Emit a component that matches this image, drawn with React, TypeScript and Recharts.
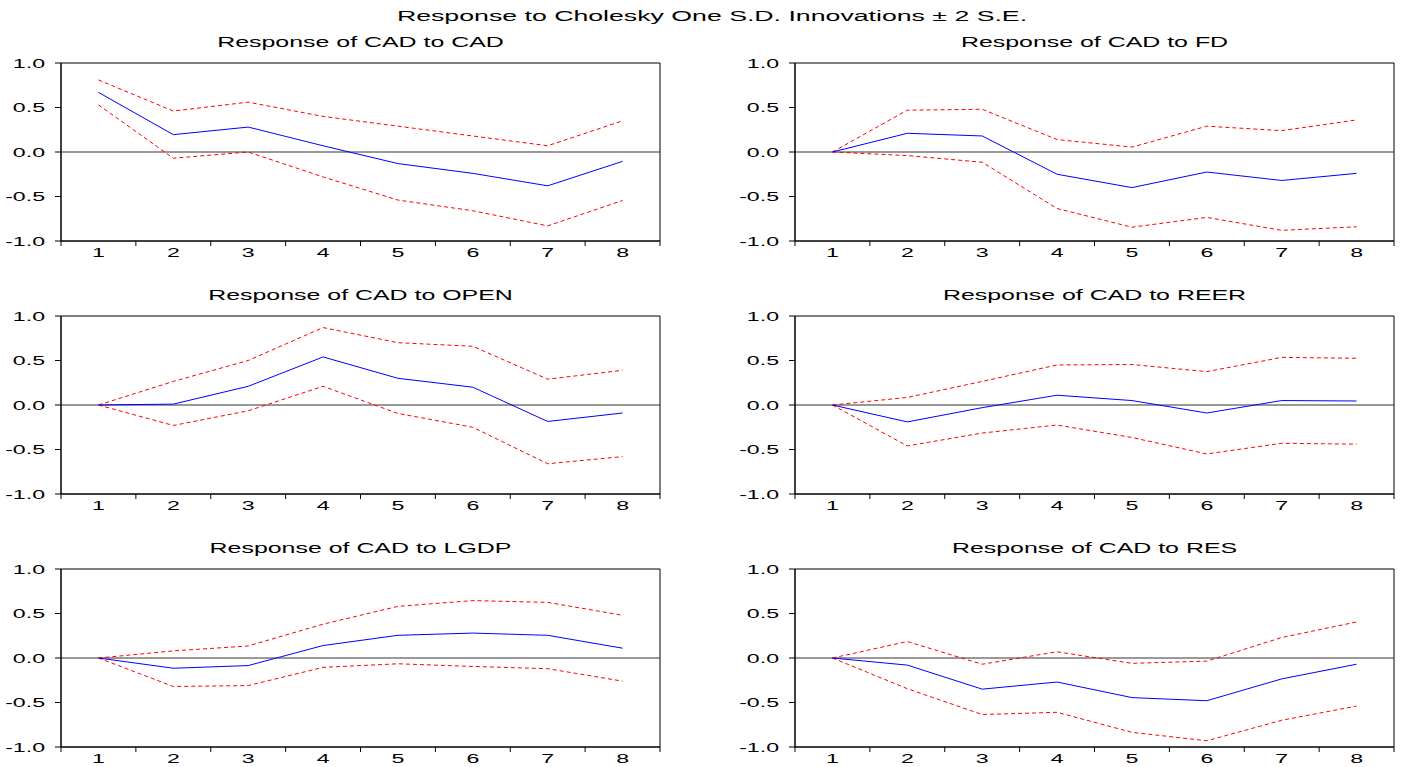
import { LineChart, Line, XAxis, YAxis, ReferenceLine, ReferenceArea } from 'recharts'

const PERIODS = [1, 2, 3, 4, 5, 6, 7, 8]
const Y_TICKS = [-1, -0.5, 0, 0.5, 1]

// Response of CAD to CAD
const cadResp = [0.67, 0.195, 0.28, 0.07, -0.13, -0.24, -0.38, -0.105]
const cadUpper = [0.81, 0.46, 0.56, 0.4, 0.29, 0.18, 0.07, 0.35]
const cadLower = [0.53, -0.07, 0.0, -0.28, -0.54, -0.66, -0.83, -0.545]

// Response of CAD to FD
const fdResp = [0, 0.21, 0.18, -0.25, -0.4, -0.225, -0.32, -0.24]
const fdUpper = [0, 0.47, 0.48, 0.14, 0.055, 0.29, 0.24, 0.36]
const fdLower = [0, -0.04, -0.115, -0.635, -0.845, -0.735, -0.88, -0.84]

// Response of CAD to OPEN
const openResp = [0, 0.01, 0.21, 0.54, 0.3, 0.2, -0.185, -0.09]
const openUpper = [0, 0.265, 0.5, 0.87, 0.7, 0.66, 0.29, 0.39]
const openLower = [0, -0.23, -0.065, 0.21, -0.095, -0.25, -0.66, -0.58]

// Response of CAD to REER
const reerResp = [0, -0.19, -0.03, 0.11, 0.05, -0.09, 0.05, 0.045]
const reerUpper = [0, 0.085, 0.265, 0.45, 0.455, 0.375, 0.535, 0.525]
const reerLower = [0, -0.46, -0.315, -0.225, -0.365, -0.55, -0.43, -0.44]

// Response of CAD to LGDP
const lgdpResp = [0, -0.115, -0.085, 0.14, 0.255, 0.28, 0.255, 0.11]
const lgdpUpper = [0, 0.08, 0.135, 0.38, 0.58, 0.645, 0.625, 0.48]
const lgdpLower = [0, -0.32, -0.31, -0.105, -0.065, -0.095, -0.12, -0.26]

// Response of CAD to RES
const resResp = [0, -0.08, -0.35, -0.27, -0.445, -0.48, -0.235, -0.07]
const resUpper = [0, 0.185, -0.07, 0.07, -0.06, -0.035, 0.23, 0.405]
const resLower = [0, -0.345, -0.635, -0.61, -0.835, -0.93, -0.7, -0.54]

const panels = [
  { title: 'Response of CAD to CAD', resp: cadResp, upper: cadUpper, lower: cadLower },
  { title: 'Response of CAD to FD', resp: fdResp, upper: fdUpper, lower: fdLower },
  { title: 'Response of CAD to OPEN', resp: openResp, upper: openUpper, lower: openLower },
  { title: 'Response of CAD to REER', resp: reerResp, upper: reerUpper, lower: reerLower },
  { title: 'Response of CAD to LGDP', resp: lgdpResp, upper: lgdpUpper, lower: lgdpLower },
  { title: 'Response of CAD to RES', resp: resResp, upper: resUpper, lower: resLower },
]

const FONT = '"Liberation Sans", Arial, sans-serif'
const SX = 1.78 // the source graphic is stretched sideways
const AXIS_W = 61
const PLOT_W = 599
const PLOT_H = 178
const TOP_M = 40
const RIGHT_M = 10
const X_AXIS_H = 25
const CHART_W = AXIS_W + PLOT_W + RIGHT_M
const CHART_H = TOP_M + PLOT_H + X_AXIS_H
const COL_LEFT = [0, 734]
const ROW_TOP = [23, 276, 529]

function Stretch({ x, y, size, anchor, children }: any) {
  return (
    <text
      transform={`translate(${x},${y}) scale(${SX},1)`}
      fontSize={size}
      fontFamily={FONT}
      fill="#000"
      textAnchor={anchor}
    >
      {children}
    </text>
  )
}

function YTick({ x, y, payload }: any) {
  return (
    <Stretch x={x} y={y + 4.5} size={13} anchor="end">
      {Number(payload.value).toFixed(1)}
    </Stretch>
  )
}

function XTick({ x, y, payload, index }: any) {
  const step = PLOT_W / PERIODS.length
  return (
    <g>
      <line x1={x - step / 2} x2={x - step / 2} y1={y} y2={y + 5} stroke="#000" />
      {index === PERIODS.length - 1 && (
        <line x1={x + step / 2} x2={x + step / 2} y1={y} y2={y + 5} stroke="#000" />
      )}
      <Stretch x={x} y={y + 16} size={13} anchor="middle">
        {payload.value}
      </Stretch>
    </g>
  )
}

function Panel({ resp, upper, lower }: any) {
  const data = PERIODS.map((p, i) => ({ period: p, resp: resp[i], upper: upper[i], lower: lower[i] }))
  return (
    <LineChart width={CHART_W} height={CHART_H} data={data} margin={{ top: TOP_M, right: RIGHT_M, bottom: 0, left: 0 }}>
      <XAxis
        dataKey="period"
        type="number"
        domain={[0.5, 8.5]}
        ticks={PERIODS}
        interval={0}
        height={X_AXIS_H}
        tickSize={0}
        tickMargin={0}
        tickLine={false}
        axisLine={{ stroke: '#000' }}
        tick={<XTick />}
      />
      <YAxis
        type="number"
        domain={[-1, 1]}
        ticks={Y_TICKS}
        width={AXIS_W}
        tickSize={6}
        tickMargin={10}
        tickLine={{ stroke: '#000' }}
        axisLine={{ stroke: '#000' }}
        tick={<YTick />}
      />
      <ReferenceArea x1={0.5} x2={8.5} y1={-1} y2={1} fill="none" stroke="#000" strokeWidth={1} fillOpacity={0} />
      <ReferenceLine y={0} stroke="#333" strokeWidth={1} />
      <Line dataKey="upper" stroke="#ff0000" strokeWidth={1} strokeDasharray="4 3" dot={false} activeDot={false} isAnimationActive={false} />
      <Line dataKey="lower" stroke="#ff0000" strokeWidth={1} strokeDasharray="4 3" dot={false} activeDot={false} isAnimationActive={false} />
      <Line dataKey="resp" stroke="#0000ff" strokeWidth={1} dot={false} activeDot={false} isAnimationActive={false} />
    </LineChart>
  )
}

export default function App() {
  return (
    <div style={{ position: 'absolute', left: 0, top: 0, width: 1403, height: 767, background: '#fff', overflow: 'hidden' }}>
      {panels.map((p, i) => {
        const col = i % 2
        const row = Math.floor(i / 2)
        return (
          <div key={p.title} style={{ position: 'absolute', left: COL_LEFT[col], top: ROW_TOP[row] }}>
            <Panel resp={p.resp} upper={p.upper} lower={p.lower} />
          </div>
        )
      })}
      <svg width={1403} height={767} style={{ position: 'absolute', left: 0, top: 0, pointerEvents: 'none' }}>
        <Stretch x={712} y={21} size={15} anchor="middle">
          Response to Cholesky One S.D. Innovations ± 2 S.E.
        </Stretch>
        {panels.map((p, i) => {
          const col = i % 2
          const row = Math.floor(i / 2)
          return (
            <Stretch key={p.title} x={COL_LEFT[col] + AXIS_W + PLOT_W / 2} y={ROW_TOP[row] + TOP_M - 16} size={14} anchor="middle">
              {p.title}
            </Stretch>
          )
        })}
      </svg>
    </div>
  )
}
